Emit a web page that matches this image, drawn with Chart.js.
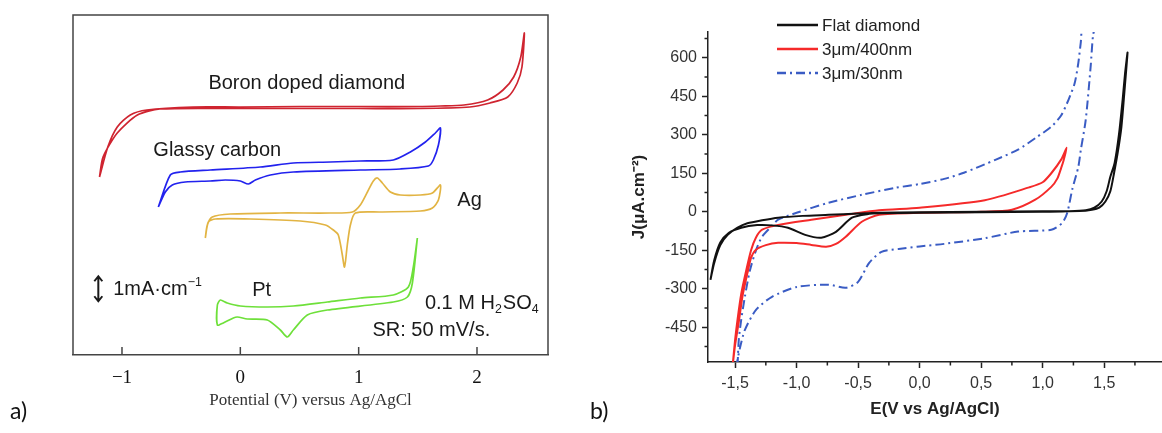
<!DOCTYPE html>
<html>
<head>
<meta charset="utf-8">
<script src="https://cdn.jsdelivr.net/npm/chart.js@4.4.1/dist/chart.umd.min.js"></script>
<style>
  html, body { margin: 0; padding: 0; background: #fff; }
  #wrap { position: relative; width: 1162px; height: 433px; overflow: hidden; background: #fff; }
  #cvA { position: absolute; left: 0; top: 0; }
  #cvB { position: absolute; left: 560px; top: 0; }
  .tag { position: absolute; font: 23px Lato, 'Open Sans', sans-serif; color: #111; }
</style>
</head>
<body>
<div id="wrap">
  <canvas id="cvA" width="565" height="433"></canvas>
  <canvas id="cvB" width="602" height="433"></canvas>
  <div class="tag" style="left:10px; top:396px;">a)</div>
  <div class="tag" style="left:590px; top:396px;">b)</div>
</div>
<script>
// ---------- panel a: potential (V vs Ag/AgCl) and offset current (1 unit = 1 mA/cm) ----------
const bddE = [-1.19, -1.12, -1.04, -0.93, -0.79, -0.4, 0.0, 0.5, 1.0, 1.5, 1.69, 1.89, 2.09, 2.22, 2.31, 2.37, 2.40,
              2.38, 2.34, 2.26, 2.11, 1.94, 1.52, 1.0, 0.5, 0.0, -0.68, -0.87, -1.04, -1.16, -1.19];
const bddI = [7.12, 8.32, 9.12, 9.6, 9.8, 9.92, 9.92, 9.94, 9.94, 9.94, 9.96, 10.0, 10.2, 10.6, 11.12, 11.92, 12.88,
              11.52, 10.88, 10.32, 10.08, 9.92, 9.86, 9.86, 9.86, 9.86, 9.84, 9.6, 8.88, 7.92, 7.12];

const gcE = [-0.693, -0.592, -0.507, -0.254, 0.169, 0.448, 0.761, 1.014, 1.293, 1.437, 1.564, 1.648, 1.691,
             1.674, 1.631, 1.589, 1.352, 1.014, 0.448, 0.254, 0.127, 0.068, 0.0, -0.127, -0.254, -0.465, -0.575, -0.634, -0.693];
const gcI = [5.92, 7.2, 7.32, 7.4, 7.52, 7.68, 7.72, 7.76, 7.8, 8.12, 8.52, 8.88, 9.08,
             8.4, 7.8, 7.56, 7.44, 7.4, 7.32, 7.2, 7.0, 6.84, 6.96, 7.0, 6.96, 6.92, 6.8, 6.52, 5.92];

const agE = [-0.296, -0.279, -0.237, -0.085, 0.338, 0.761, 0.947, 1.014, 1.074, 1.124, 1.158, 1.2, 1.268, 1.352, 1.522, 1.623, 1.691,
             1.674, 1.623, 1.522, 1.183, 0.972, 0.93, 0.904, 0.888, 0.879, 0.862, 0.828, 0.786, 0.719, 0.507, 0.085, -0.211, -0.27, -0.296];
const agI = [4.68, 5.2, 5.52, 5.64, 5.68, 5.68, 5.72, 6.0, 6.52, 6.96, 7.08, 6.88, 6.52, 6.4, 6.4, 6.48, 6.8,
             6.2, 5.88, 5.76, 5.72, 5.68, 5.2, 4.4, 3.72, 3.52, 4.0, 4.8, 5.0, 5.2, 5.36, 5.44, 5.44, 5.32, 4.68];

const ptE = [1.496, 1.462, 1.42, 1.293, 1.014, 0.735, 0.448, 0.228, 0.0, -0.11, -0.169, -0.194, -0.194,
             -0.144, -0.059, -0.025, 0.059, 0.228, 0.338, 0.397, 0.448, 0.566, 0.735, 1.293, 1.412, 1.454, 1.496];
const ptI = [4.68, 3.52, 2.72, 2.4, 2.28, 2.12, 1.96, 1.92, 1.96, 2.08, 2.2, 2.0, 1.2,
             1.28, 1.48, 1.52, 1.44, 1.4, 1.0, 0.72, 1.0, 1.6, 1.8, 2.12, 2.32, 2.88, 4.68];

const potTicksA = [-1, 0, 1, 2];

// ---------- panel b: E (V vs Ag/AgCl) and J (uA/cm2) ----------
const flatE = [-1.70, -1.67, -1.62, -1.56, -1.48, -1.40, -1.28, -1.15, -0.95, -0.74, -0.5, -0.33, 0.0, 0.5, 1.0, 1.3, 1.40, 1.46, 1.51, 1.55, 1.58, 1.61, 1.64, 1.665, 1.69,
               1.67, 1.65, 1.62, 1.585, 1.55, 1.52, 1.48, 1.42, 1.35, 1.2, 1.0, 0.5, 0.0, -0.33, -0.41, -0.55, -0.68, -0.8, -0.93, -1.07, -1.2, -1.32, -1.45, -1.55, -1.62, -1.67, -1.70];
const flatJ = [-265, -200, -130, -90, -62, -45, -33, -23, -16, -12, -7, -4, -2, 0, 2, 3, 8, 16, 40, 80, 150, 230, 330, 470, 620,
               540, 436, 300, 190, 136, 80, 40, 16, 6, 2, 0, -2, -4, -6, -8, -23, -78, -101, -90, -62, -53, -52, -62, -82, -120, -190, -265];

const r400E = [-1.52, -1.50, -1.48, -1.45, -1.41, -1.37, -1.33, -1.28, -1.15, -0.88, -0.6, -0.33, 0.0, 0.53, 0.89, 1.0, 1.07, 1.15, 1.195,
               1.17, 1.15, 1.12, 1.07, 0.94, 0.75, 0.5, 0.0, -0.33, -0.47, -0.6, -0.68, -0.76, -0.88, -1.0, -1.15, -1.25, -1.33, -1.37, -1.40, -1.44, -1.47, -1.50, -1.52];
const r400J = [-600, -500, -420, -320, -230, -150, -100, -70, -51, -31, -12, 6, 16, 45, 95, 115, 150, 203, 249,
               200, 170, 130, 97, 47, 8, 0, -4, -12, -39, -97, -125, -136, -129, -122, -121, -130, -148, -180, -240, -330, -430, -520, -600];

const r30E = [-1.48, -1.47, -1.45, -1.42, -1.38, -1.33, -1.28, -1.2, -1.15, -1.0, -0.74, -0.47, -0.2, 0.0, 0.2, 0.36, 0.62, 0.8, 0.95, 1.07, 1.15, 1.21, 1.26, 1.29, 1.31, 1.33,
              1.43, 1.41, 1.39, 1.35, 1.31, 1.29, 1.24, 1.2, 1.16, 1.07, 0.8, 0.53, 0.2, 0.0, -0.17, -0.31, -0.41, -0.5, -0.6, -0.74, -1.0, -1.2, -1.33, -1.42, -1.46, -1.49];
const r30J = [-600, -500, -420, -330, -230, -150, -97, -55, -31, -4, 35, 66, 93, 108, 128, 152, 203, 242, 290, 331, 375, 436, 500, 580, 660, 730,
              730, 690, 565, 358, 240, 175, 86, -4, -43, -70, -77, -103, -125, -135, -145, -156, -199, -273, -296, -284, -293, -331, -382, -460, -530, -600];

const eMinorTicks = [-1.25, -0.75, -0.25, 0.25, 0.75, 1.25, 1.75];
const jMinorTicks = [-525, -375, -225, -75, 75, 225, 375, 525, 675];

const pts = (xs, ys) => xs.map((x, i) => ({ x: x, y: ys[i] }));

function drawRich(ctx, x, y, parts, size, family) {
  let cx = x;
  for (const [t, mode] of parts) {
    const fs = mode ? size * 0.62 : size;
    ctx.font = fs + 'px ' + family;
    const dy = mode === 'sub' ? size * 0.32 : mode === 'sup' ? -size * 0.33 : 0;
    ctx.fillText(t, cx, y + dy);
    cx += ctx.measureText(t).width + (mode ? 1 : 0);
  }
}

// ---------- chart a ----------
const notesA = [
  { parts: [['Boron doped diamond']], x: -0.27, y: 10.88 },
  { parts: [['Glassy carbon']], x: -0.735, y: 8.2 },
  { parts: [['Ag']], x: 1.834, y: 6.2 },
  { parts: [['Pt']], x: 0.1, y: 2.6 },
  { parts: [['1mA\u00b7cm'], ['\u22121', 'sup']], x: -1.074, y: 2.62 },
  { parts: [['0.1 M H'], ['2', 'sub'], ['SO'], ['4', 'sub']], x: 1.56, y: 2.08 },
  { parts: [['SR: 50 mV/s.']], x: 1.116, y: 1.0 }
];

const frameA = {
  id: 'frameA',
  afterDraw(chart) {
    const { ctx, chartArea: a, scales } = chart;
    ctx.save();
    ctx.strokeStyle = '#444';
    ctx.lineWidth = 1.5;
    ctx.beginPath();
    ctx.moveTo(a.left, a.bottom);
    ctx.lineTo(a.left, a.top);
    ctx.lineTo(a.right, a.top);
    ctx.lineTo(a.right, a.bottom);
    ctx.stroke();
    // inward ticks
    for (const v of potTicksA) {
      const px = scales.x.getPixelForValue(v);
      ctx.beginPath();
      ctx.moveTo(px, a.bottom);
      ctx.lineTo(px, a.bottom - 8);
      ctx.stroke();
    }
    // text notes
    ctx.fillStyle = '#1a1a1a';
    ctx.textBaseline = 'middle';
    ctx.textAlign = 'left';
    for (const n of notesA) {
      drawRich(ctx, scales.x.getPixelForValue(n.x), scales.y.getPixelForValue(n.y), n.parts, 20, "'Liberation Sans', Arial, sans-serif");
    }
    // 1 mA scale bar (double arrow)
    const ax = scales.x.getPixelForValue(-1.2);
    const y0 = scales.y.getPixelForValue(2.15);
    const y1 = scales.y.getPixelForValue(3.15);
    ctx.strokeStyle = '#1a1a1a';
    ctx.lineWidth = 2;
    ctx.beginPath();
    ctx.moveTo(ax, y0); ctx.lineTo(ax, y1);
    ctx.moveTo(ax - 4, y1 + 5); ctx.lineTo(ax, y1); ctx.lineTo(ax + 4, y1 + 5);
    ctx.moveTo(ax - 4, y0 - 5); ctx.lineTo(ax, y0); ctx.lineTo(ax + 4, y0 - 5);
    ctx.stroke();
    ctx.restore();
  }
};

const lineA = (label, xs, ys, color) => ({
  label: label, data: pts(xs, ys), showLine: true, borderColor: color, backgroundColor: color,
  borderWidth: 1.7, pointRadius: 0, tension: 0.25
});

new Chart(document.getElementById('cvA'), {
  type: 'scatter',
  data: {
    datasets: [
      lineA('Boron doped diamond', bddE, bddI, '#cf2430'),
      lineA('Glassy carbon', gcE, gcI, '#2222ee'),
      lineA('Ag', agE, agI, '#e2b443'),
      lineA('Pt', ptE, ptI, '#6ee03a')
    ]
  },
  options: {
    responsive: false,
    animation: false,
    layout: { padding: { left: 73, right: 17, top: 15, bottom: 22 } },
    plugins: { legend: { display: false }, tooltip: { enabled: false } },
    scales: {
      x: {
        type: 'linear', min: -1.414, max: 2.6,
        afterFit: (s) => { s.height = 56; },
        grid: { display: false },
        border: { display: true, color: '#444', width: 1.5 },
        ticks: {
          stepSize: 1, includeBounds: false, padding: 4, color: '#111',
          font: { family: "'Liberation Serif', 'Times New Roman', serif", size: 19 },
          callback: (v) => (v < 0 ? '\u2212' + Math.abs(v) : String(v))
        },
        title: {
          display: true, text: 'Potential (V) versus Ag/AgCl', color: '#333',
          font: { family: "'Liberation Serif', 'Times New Roman', serif", size: 17 },
          padding: { top: 0, bottom: 0 }
        }
      },
      y: { type: 'linear', min: 0, max: 13.6, display: false }
    }
  },
  plugins: [frameA]
});

// ---------- chart b ----------
const axesB = {
  id: 'axesB',
  afterDraw(chart) {
    const { ctx, chartArea: a, scales } = chart;
    ctx.save();
    ctx.strokeStyle = '#222';
    ctx.lineWidth = 1.5;
    ctx.beginPath();
    for (const v of eMinorTicks) {
      const px = scales.x.getPixelForValue(v);
      if (px < a.left || px > a.right) continue;
      ctx.moveTo(px, a.bottom); ctx.lineTo(px, a.bottom + 3.5);
    }
    for (const v of jMinorTicks) {
      const py = scales.y.getPixelForValue(v);
      ctx.moveTo(a.left, py); ctx.lineTo(a.left - 3.5, py);
    }
    ctx.stroke();
    // legend
    const lx = a.left + 69, tx = a.left + 114;
    ctx.font = "17px 'Liberation Sans', Arial, sans-serif";
    ctx.textBaseline = 'middle';
    ctx.textAlign = 'left';
    chart.data.datasets.forEach((d, i) => {
      const ly = 25 + i * 24;
      ctx.strokeStyle = d.borderColor;
      ctx.lineWidth = 2.5;
      ctx.setLineDash(d.borderDash || []);
      ctx.beginPath();
      ctx.moveTo(lx, ly); ctx.lineTo(lx + 41, ly);
      ctx.stroke();
      ctx.setLineDash([]);
      ctx.fillStyle = '#222';
      ctx.fillText(d.label, tx, ly + 1);
    });
    ctx.restore();
  }
};

const lineB = (label, xs, ys, color, dash) => ({
  label: label, data: pts(xs, ys), showLine: true, borderColor: color, backgroundColor: color,
  borderWidth: 2, pointRadius: 0, tension: 0.25, borderDash: dash || []
});

const tickFontB = { family: "'Liberation Sans', Arial, sans-serif", size: 16 };
const titleFontB = { family: "'Liberation Sans', Arial, sans-serif", size: 17, weight: 'bold' };

new Chart(document.getElementById('cvB'), {
  type: 'scatter',
  data: {
    datasets: [
      lineB('Flat diamond', flatE, flatJ, '#111111'),
      lineB('3\u03bcm/400nm', r400E, r400J, '#f52a2a'),
      lineB('3\u03bcm/30nm', r30E, r30J, '#3a5cc4', [9, 4, 2, 4])
    ]
  },
  options: {
    responsive: false,
    animation: false,
    layout: { padding: { left: 60, right: 0, top: 32, bottom: 13 } },
    plugins: { legend: { display: false }, tooltip: { enabled: false } },
    scales: {
      x: {
        type: 'linear', min: -1.72, max: 1.97,
        afterFit: (s) => { s.height = 58; },
        grid: { drawOnChartArea: false, drawTicks: true, tickLength: 6, tickColor: '#222', tickWidth: 1.5 },
        border: { display: true, color: '#222', width: 1.5 },
        ticks: {
          stepSize: 0.5, includeBounds: false, padding: 6, color: '#333', font: tickFontB,
          callback: (v) => v.toFixed(1).replace('.', ',')
        },
        title: { display: true, text: 'E(V vs Ag/AgCl)', color: '#222', font: titleFontB, padding: { top: 0, bottom: 0 } }
      },
      y: {
        type: 'linear', min: -585, max: 700,
        afterFit: (s) => { s.width = 88; },
        grid: { drawOnChartArea: false, drawTicks: true, tickLength: 6, tickColor: '#222', tickWidth: 1.5 },
        border: { display: true, color: '#222', width: 1.5 },
        ticks: { stepSize: 150, includeBounds: false, padding: 5, color: '#333', font: tickFontB },
        title: { display: true, text: 'J(\u03bcA.cm\u207b\u00b2)', color: '#222', font: titleFontB, padding: { top: 9, bottom: 0 } }
      }
    }
  },
  plugins: [axesB]
});
</script>
</body>
</html>
